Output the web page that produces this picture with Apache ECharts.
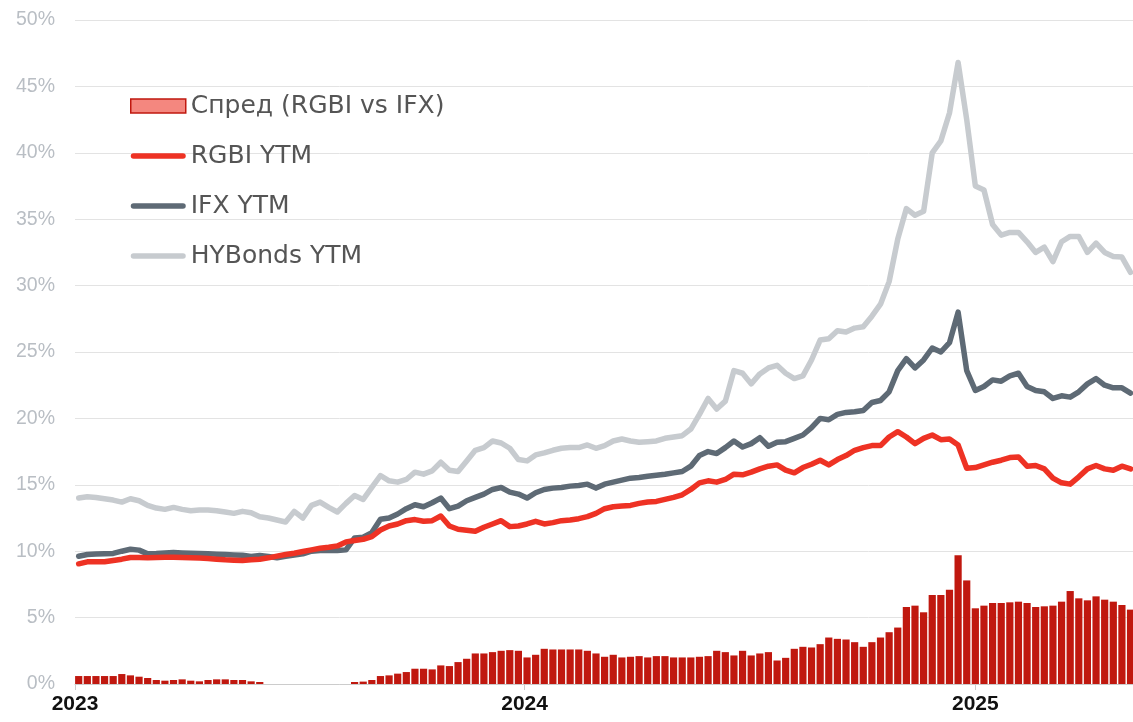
<!DOCTYPE html>
<html>
<head>
<meta charset="utf-8">
<script src="https://cdn.jsdelivr.net/npm/echarts@6/dist/echarts.min.js"></script>
<style>
html,body{margin:0;padding:0;background:#fff;}
#chart{width:1133px;height:722px;}
</style>
</head>
<body>
<div id="chart"></div>
<script>
// Weekly observations (centre of each week), starting Wed 2023-01-04
var startDate = Date.UTC(2023, 0, 4);
var weekCount = 123;
var yearTicks = [Date.UTC(2023,0,1), Date.UTC(2024,0,1), Date.UTC(2025,0,1)];
var yTickLabels = ['0%','5%','10%','15%','20%','25%','30%','35%','40%','45%','50%'];

var seriesNames = ['Спред (RGBI vs IFX)', 'RGBI YTM', 'IFX YTM', 'HYBonds YTM'];

var hyYtm = [14.0,14.1,14.05,13.95,13.85,13.7,13.95,13.8,13.45,13.25,
13.15,13.3,13.15,13.05,13.1,13.1,13.05,12.95,12.85,13.0,
12.9,12.6,12.5,12.35,12.2,13.0,12.5,13.45,13.7,13.3,
12.95,13.6,14.2,13.9,14.8,15.7,15.3,15.2,15.4,15.95,
15.8,16.05,16.7,16.1,16.0,16.8,17.6,17.8,18.3,18.15,
17.75,16.9,16.8,17.25,17.4,17.6,17.75,17.8,17.8,18.0,
17.75,17.95,18.3,18.45,18.3,18.2,18.25,18.3,18.5,18.6,
18.7,19.2,20.3,21.5,20.7,21.3,23.6,23.4,22.6,23.35,
23.8,24.0,23.4,23.0,23.2,24.4,25.9,26.0,26.6,26.5,
26.8,26.9,27.7,28.6,30.3,33.5,35.8,35.3,35.6,40.0,
40.9,43.0,46.8,42.5,37.5,37.2,34.6,33.8,34.0,34.0,
33.3,32.5,32.9,31.8,33.3,33.7,33.7,32.5,33.2,32.5,
32.2,32.15,31.0];

var ifxYtm = [9.62,9.75,9.78,9.8,9.83,10.0,10.15,10.08,9.8,9.82,
9.86,9.9,9.87,9.85,9.82,9.8,9.77,9.75,9.72,9.7,
9.6,9.68,9.6,9.5,9.62,9.72,9.8,10.0,10.05,10.05,
10.05,10.1,11.0,11.05,11.4,12.4,12.5,12.8,13.2,13.5,
13.35,13.65,14.0,13.2,13.4,13.8,14.05,14.3,14.65,14.8,
14.45,14.3,14.0,14.4,14.65,14.75,14.8,14.9,14.95,15.05,
14.75,15.05,15.2,15.35,15.5,15.55,15.65,15.72,15.8,15.9,
16.0,16.4,17.2,17.5,17.35,17.8,18.3,17.85,18.1,18.55,
17.9,18.2,18.25,18.5,18.75,19.3,20.0,19.9,20.3,20.45,
20.5,20.6,21.2,21.35,22.0,23.6,24.5,23.8,24.4,25.3,
25.0,25.7,28.0,23.6,22.1,22.4,22.9,22.8,23.2,23.4,
22.4,22.1,22.0,21.5,21.7,21.6,22.0,22.6,23.0,22.5,
22.3,22.3,21.9];

var rgbiYtm = [9.05,9.2,9.2,9.2,9.3,9.4,9.53,9.52,9.5,9.53,
9.55,9.55,9.52,9.5,9.48,9.45,9.4,9.35,9.32,9.3,
9.35,9.4,9.5,9.63,9.75,9.85,9.98,10.1,10.22,10.3,
10.4,10.7,10.8,10.9,11.1,11.6,11.9,12.05,12.3,12.38,
12.25,12.3,12.65,11.9,11.65,11.58,11.5,11.8,12.05,12.3,
11.85,11.9,12.05,12.25,12.05,12.15,12.3,12.35,12.45,12.6,
12.85,13.2,13.35,13.4,13.45,13.6,13.7,13.75,13.9,14.05,
14.25,14.65,15.15,15.3,15.2,15.4,15.8,15.75,15.95,16.2,
16.4,16.5,16.1,15.9,16.3,16.55,16.85,16.5,16.9,17.2,
17.6,17.8,17.95,17.95,18.6,19.0,18.6,18.1,18.5,18.75,
18.4,18.45,18.0,16.25,16.3,16.5,16.7,16.85,17.05,17.1,
16.4,16.45,16.2,15.5,15.15,15.05,15.6,16.2,16.45,16.2,
16.1,16.4,16.2];

var spread = [0.6,0.6,0.6,0.6,0.6,0.75,0.65,0.55,0.45,0.3,
0.25,0.3,0.35,0.25,0.2,0.3,0.35,0.35,0.3,0.3,
0.2,0.15,0,0,0,0,0,0,0,0,
0,0,0.15,0.18,0.3,0.6,0.65,0.78,0.9,1.15,
1.15,1.1,1.4,1.35,1.65,1.9,2.3,2.3,2.4,2.5,
2.55,2.5,2.0,2.2,2.65,2.6,2.6,2.6,2.6,2.5,
2.3,2.05,2.2,2.0,2.05,2.1,2.0,2.1,2.1,2.0,
2.0,2.0,2.05,2.1,2.5,2.4,2.15,2.5,2.15,2.3,
2.4,1.77,1.97,2.65,2.8,2.75,3.0,3.5,3.4,3.35,
3.15,2.8,3.15,3.5,3.9,4.25,5.8,5.9,5.4,6.7,
6.7,7.1,9.7,7.8,5.7,5.9,6.1,6.1,6.15,6.2,
6.1,5.8,5.85,5.9,6.2,7.0,6.45,6.3,6.6,6.35,
6.2,5.95,5.6];

var DAY = 86400000;
var dates = [];
for (var i = 0; i < weekCount; i++) dates.push(startDate + i * 7 * DAY);
function pair(arr) { return arr.map(function (v, i) { return [dates[i], v]; }); }

var colors = { spread: '#c0180f', rgbi: '#ee3224', ifx: '#5e6a75', hy: '#c7cbcf' };
var FONT = '"Liberation Sans", Arial, sans-serif';
var LEGEND_FONT = '"DejaVu Sans", "Liberation Sans", sans-serif';
// thick rounded line icon centred in a 55x14 box (the extra moves keep the full box height)
var LINE_ICON = 'path://M0,0 M0,14 M2.8,4.2 L52.2,4.2 A2.8,2.8 0 0 1 52.2,9.8 L2.8,9.8 A2.8,2.8 0 0 1 2.8,4.2 Z';

var chart = echarts.init(document.getElementById('chart'), null, { renderer: 'canvas' });
chart.setOption({
  animation: false,
  backgroundColor: '#ffffff',
  grid: { left: 75, right: 0, top: 20, bottom: 38, containLabel: false },
  legend: {
    orient: 'vertical', left: 125, top: 87,
    itemWidth: 55, itemHeight: 14, itemGap: 22,
    textStyle: { fontSize: 25, color: '#555555', fontFamily: LEGEND_FONT, lineHeight: 28 },
    data: [
      { name: seriesNames[0], icon: 'rect', itemStyle: { color: '#f4877f', borderColor: '#c0180f', borderWidth: 1.5 } },
      { name: seriesNames[1], icon: LINE_ICON, itemStyle: { color: colors.rgbi, borderWidth: 0 } },
      { name: seriesNames[2], icon: LINE_ICON, itemStyle: { color: colors.ifx, borderWidth: 0 } },
      { name: seriesNames[3], icon: LINE_ICON, itemStyle: { color: colors.hy, borderWidth: 0 } }
    ]
  },
  xAxis: {
    type: 'value',
    min: Date.UTC(2023, 0, 1),
    max: Date.UTC(2025, 4, 9),
    axisLine: { show: true, onZero: false, lineStyle: { color: '#cccccc', width: 1 } },
    axisTick: { show: true, customValues: yearTicks, length: 6, lineStyle: { color: '#cccccc' } },
    axisLabel: {
      customValues: yearTicks,
      formatter: function (v) { return String(new Date(v).getUTCFullYear()); },
      fontSize: 21, fontWeight: 'bold', color: '#111111', fontFamily: FONT, margin: 10
    },
    splitLine: { show: false }
  },
  yAxis: {
    type: 'value', min: 0, max: 50, interval: 5,
    axisLine: { show: false }, axisTick: { show: false },
    axisLabel: {
      formatter: function (v) { return yTickLabels[Math.round(v / 5)]; },
      fontSize: 19.5, color: '#b9bec4', fontFamily: FONT, margin: 20
    },
    splitLine: { lineStyle: { color: '#e3e3e3', width: 1 } }
  },
  series: [
    {
      name: seriesNames[0], type: 'bar', data: pair(spread), barWidth: 7.2,
      itemStyle: { color: colors.spread }, z: 1
    },
    {
      name: seriesNames[3], type: 'line', data: pair(hyYtm), symbol: 'none', showSymbol: false,
      lineStyle: { color: colors.hy, width: 5.5, cap: 'round', join: 'round' }, itemStyle: { color: colors.hy }, z: 2
    },
    {
      name: seriesNames[2], type: 'line', data: pair(ifxYtm), symbol: 'none', showSymbol: false,
      lineStyle: { color: colors.ifx, width: 5.5, cap: 'round', join: 'round' }, itemStyle: { color: colors.ifx }, z: 3
    },
    {
      name: seriesNames[1], type: 'line', data: pair(rgbiYtm), symbol: 'none', showSymbol: false,
      lineStyle: { color: colors.rgbi, width: 5.5, cap: 'round', join: 'round' }, itemStyle: { color: colors.rgbi }, z: 4
    }
  ]
});
</script>
</body>
</html>
